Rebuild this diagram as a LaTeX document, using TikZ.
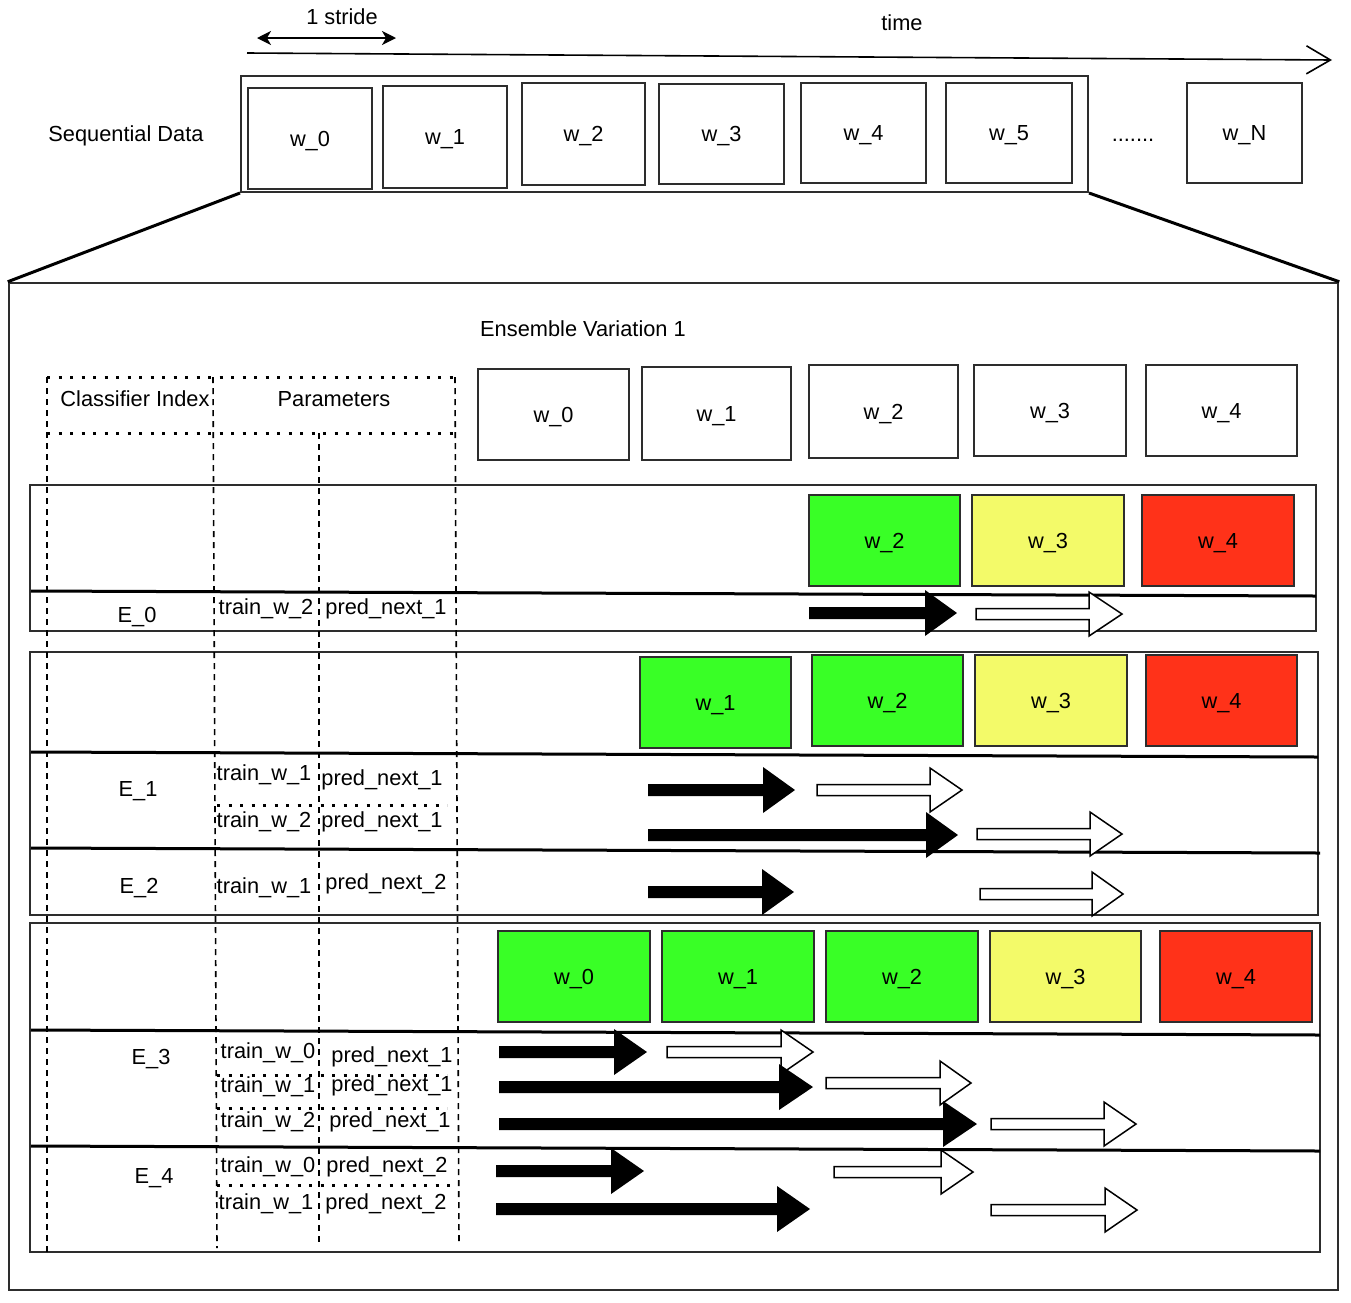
\documentclass[tikz,border=0pt]{standalone}
\usepackage{fontspec}
\setmainfont{Liberation Sans}
\usetikzlibrary{arrows.meta}
\definecolor{gr}{RGB}{57,255,38}
\definecolor{ye}{RGB}{243,250,105}
\definecolor{rd}{RGB}{255,50,25}
\definecolor{edge}{RGB}{45,45,45}
\newcommand{\blkarr}[4]{\fill[black] ({#1},{#4-6}) -- ({#2},{#4-6}) -- ({#2},{#4-23}) -- ({#3},{#4}) -- ({#2},{#4+23}) -- ({#2},{#4+6}) -- ({#1},{#4+6}) -- cycle;}
\newcommand{\holarr}[4]{\filldraw[fill=white,draw=black,line width=1.5pt,line join=miter] ({#1},{#4-5.5}) -- ({#2},{#4-5.5}) -- ({#2},{#4-22}) -- ({#3},{#4}) -- ({#2},{#4+22}) -- ({#2},{#4+5.5}) -- ({#1},{#4+5.5}) -- cycle;}
\begin{document}
\begin{tikzpicture}[x=1pt,y=-1pt,
  every node/.style={font=\fontsize{21.8}{26}\selectfont, inner sep=0pt, text height=20pt, text depth=5pt},
  wb/.style={draw=edge, line width=2pt, rectangle, fill=white},
  grp/.style={draw=edge, line width=2pt},
  sep/.style={draw=black, line width=3pt},
  vdash/.style={draw=black, line width=1.6pt, dash pattern=on 6pt off 5pt},
  hdot/.style={draw=black, line width=3pt, dash pattern=on 3pt off 8.5pt},
  lbl/.style={anchor=center}]
\fill[white] (0,0) rectangle (1351,1302);
\useasboundingbox (0,0) rectangle (1351,1302);

% top: stride and time
\node[lbl] (stride) at (342,17) {1 stride};
\coordinate (sa) at (257,38);
\coordinate (sb) at (396,38);
\draw[line width=1.6pt, {Stealth[length=14pt,width=14pt,inset=4pt]}-{Stealth[length=14pt,width=14pt,inset=4pt]}] (sa) -- (sb);
\node[lbl] (time) at (902,23) {time};
\coordinate (ta) at (247,53);
\coordinate (tb) at (1332,60);
\draw[line width=1.6pt, -{Straight Barb[length=24pt,width=28pt,line width=1.6pt]}] (ta) -- (tb);

% sequential data
\node[lbl] (seq) at (126,134) {Sequential Data};
\node[draw=edge, line width=2pt, minimum width=847pt, minimum height=116pt, text height=0pt, text depth=0pt] (cont) at (664.5,134) {};
\node[wb, minimum width=124pt, minimum height=101pt] (s0) at (310,138.5) {w\_0};
\node[wb, minimum width=124pt, minimum height=102pt] (s1) at (445,137) {w\_1};
\node[wb, minimum width=123pt, minimum height=102pt] (s2) at (583.5,134) {w\_2};
\node[wb, minimum width=125pt, minimum height=100pt] (s3) at (721.5,134) {w\_3};
\node[wb, minimum width=125pt, minimum height=100pt] (s4) at (863.5,133) {w\_4};
\node[wb, minimum width=126pt, minimum height=100pt] (s5) at (1009,133) {w\_5};
\node[lbl] (dots) at (1133,134) {.......};
\node[wb, minimum width=115pt, minimum height=100pt] (sN) at (1244.5,133) {w\_N};

% big box
\node[draw=edge, line width=2.5pt, minimum width=1329pt, minimum height=1007pt, text height=0pt, text depth=0pt] (big) at (673.5,786.5) {};
\draw[line width=3pt] (cont.south west) -- (big.north west);
\draw[line width=3pt] (cont.south east) -- (big.north east);

\node[lbl] (ens) at (583,329) {Ensemble Variation 1};

% header boxes
\node[wb, minimum width=151pt, minimum height=91pt] (h0) at (553.5,414.5) {w\_0};
\node[wb, minimum width=149pt, minimum height=93pt] (h1) at (716.5,413.5) {w\_1};
\node[wb, minimum width=149pt, minimum height=93pt] (h2) at (883.5,411.5) {w\_2};
\node[wb, minimum width=152pt, minimum height=91pt] (h3) at (1050,410.5) {w\_3};
\node[wb, minimum width=151pt, minimum height=91pt] (h4) at (1221.5,410.5) {w\_4};

% group boxes
\draw[grp] (30,485) rectangle (1316,631);
\draw[grp] (30,652) rectangle (1318,915);
\draw[grp] (30,923) rectangle (1320,1252);

% E_0 coloured boxes
\node[wb, fill=gr, minimum width=151pt, minimum height=91pt] (a2) at (884.5,540.5) {w\_2};
\node[wb, fill=ye, minimum width=152pt, minimum height=91pt] (a3) at (1048,540.5) {w\_3};
\node[wb, fill=rd, minimum width=152pt, minimum height=91pt] (a4) at (1218,540.5) {w\_4};

% E_1/E_2 coloured boxes
\node[wb, fill=gr, minimum width=151pt, minimum height=91pt] (b1) at (715.5,702.5) {w\_1};
\node[wb, fill=gr, minimum width=151pt, minimum height=91pt] (b2) at (887.5,700.5) {w\_2};
\node[wb, fill=ye, minimum width=152pt, minimum height=91pt] (b3) at (1051,700.5) {w\_3};
\node[wb, fill=rd, minimum width=151pt, minimum height=91pt] (b4) at (1221.5,700.5) {w\_4};

% E_3/E_4 coloured boxes
\node[wb, fill=gr, minimum width=152pt, minimum height=91pt] (c0) at (574,976.5) {w\_0};
\node[wb, fill=gr, minimum width=152pt, minimum height=91pt] (c1) at (738,976.5) {w\_1};
\node[wb, fill=gr, minimum width=152pt, minimum height=91pt] (c2) at (902,976.5) {w\_2};
\node[wb, fill=ye, minimum width=151pt, minimum height=91pt] (c3) at (1065.5,976.5) {w\_3};
\node[wb, fill=rd, minimum width=152pt, minimum height=91pt] (c4) at (1236,976.5) {w\_4};

% thick separators
\draw[sep] (31,591) -- (1316,596);
\draw[sep] (31,752) -- (1318,757);
\draw[sep] (31,848) -- (1320,853);
\draw[sep] (31,1030) -- (1320,1035);
\draw[sep] (31,1146) -- (1320,1151);

% header table (dotted / dashed)
\draw[hdot] (47,377) -- (455,377);
\draw[hdot] (47,433) -- (455,433);
\draw[hdot] (217,805) -- (447,805);
\draw[hdot] (217,1075) -- (447,1075);
\draw[hdot] (217,1108) -- (447,1108);
\draw[hdot] (217,1185) -- (455,1185);
\draw[vdash] (47,377) -- (47,1255);
\draw[vdash] (213,377) -- (217,1248);
\draw[vdash] (319,433) -- (319,1245);
\draw[vdash] (455,377) -- (459,1242);

\node[lbl] (ci) at (135,399) {Classifier Index};
\node[lbl] (par) at (334,399) {Parameters};

% E_0 texts
\node[lbl] (e0) at (137,615) {E\_0};
\node[lbl] (t02) at (266,607) {train\_w\_2};
\node[lbl] (p01) at (386,607) {pred\_next\_1};
% E_1
\node[lbl] (e1) at (138,789) {E\_1};
\node[lbl] (t11) at (264,773) {train\_w\_1};
\node[lbl] (p11) at (382,778) {pred\_next\_1};
\node[lbl] (t12) at (264,820) {train\_w\_2};
\node[lbl] (p12) at (382,820) {pred\_next\_1};
% E_2
\node[lbl] (e2) at (139,886) {E\_2};
\node[lbl] (t21) at (264,886) {train\_w\_1};
\node[lbl] (p22) at (386,882) {pred\_next\_2};
% E_3
\node[lbl] (e3) at (151,1057) {E\_3};
\node[lbl] (t30) at (268,1051) {train\_w\_0};
\node[lbl] (p30) at (392,1055) {pred\_next\_1};
\node[lbl] (t31) at (268,1085) {train\_w\_1};
\node[lbl] (p31) at (392,1084) {pred\_next\_1};
\node[lbl] (t32) at (268,1120) {train\_w\_2};
\node[lbl] (p32) at (390,1120) {pred\_next\_1};
% E_4
\node[lbl] (e4) at (154,1176) {E\_4};
\node[lbl] (t40) at (268,1165) {train\_w\_0};
\node[lbl] (p40) at (387,1165) {pred\_next\_2};
\node[lbl] (t41) at (266,1202) {train\_w\_1};
\node[lbl] (p41) at (386,1202) {pred\_next\_2};

% block arrows
\blkarr{809}{925}{957}{613}
\holarr{976}{1089}{1122}{614}
\blkarr{648}{763}{795}{790}
\holarr{817}{930}{962}{790}
\blkarr{648}{926}{958}{835}
\holarr{977}{1090}{1122}{834}
\blkarr{648}{762}{794}{892}
\holarr{980}{1092}{1123}{894}
\blkarr{499}{614}{647}{1052}
\holarr{667}{781}{813}{1052}
\blkarr{499}{779}{813}{1087}
\holarr{826}{940}{971}{1083}
\blkarr{499}{943}{977}{1124}
\holarr{991}{1104}{1136}{1124}
\blkarr{496}{611}{644}{1171}
\holarr{834}{941}{973}{1172}
\blkarr{496}{777}{810}{1209}
\holarr{991}{1105}{1137}{1210}
\end{tikzpicture}
\end{document}
